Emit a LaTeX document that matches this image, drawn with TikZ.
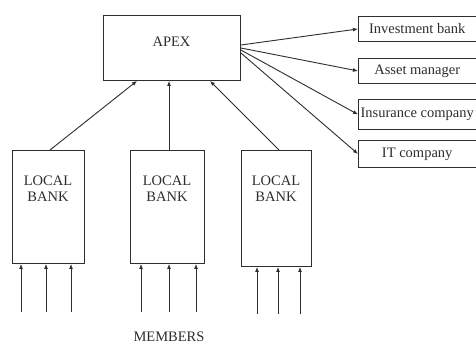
\documentclass[tikz,border=0pt]{standalone}
\usepackage{fontspec}
\setmainfont{Liberation Serif}
\usetikzlibrary{arrows.meta,calc}
\definecolor{ink}{HTML}{2E2E2E}
\begin{document}
\begin{tikzpicture}[x=1pt,y=-1pt,
  box/.style={draw=ink,line width=0.9pt,inner sep=0pt,anchor=north west},
  txt/.style={text=ink,font=\fontsize{14.5}{16}\selectfont,align=center,inner sep=0pt},
  arr/.style={draw=ink,line width=0.9pt,-{Latex[length=5pt,width=4pt]}}]
\useasboundingbox[fill=white] (0,0) rectangle (476,346);
% APEX
\node[box,minimum width=137pt,minimum height=65pt] (apex) at (103,15) {};
\node[txt] (apext) at (171.5,42) {APEX};
% right boxes
\node[box,minimum width=117.5pt,minimum height=25pt] (ib) at (358,16) {};
\node[txt] at (ib.center) {Investment bank};
\node[box,minimum width=117.5pt,minimum height=25pt] (am) at (358,58) {};
\node[txt] at (am.center) {Asset manager};
\node[box,minimum width=117.5pt,minimum height=30pt] (ic) at (358,99) {};
\node[txt] at (ic.center) {Insurance company};
\node[box,minimum width=117.5pt,minimum height=27pt] (it) at (358,140) {};
\node[txt] at (it.center) {IT company};
% local banks
\node[box,minimum width=72pt,minimum height=113pt] (lb1) at (12,150) {};
\node[txt] at (48,189) {LOCAL\\BANK};
\node[box,minimum width=74pt,minimum height=113pt] (lb2) at (130,150) {};
\node[txt] at (167,189) {LOCAL\\BANK};
\node[box,minimum width=70pt,minimum height=116pt] (lb3) at (241,150) {};
\node[txt] at (276,189) {LOCAL\\BANK};
\node[txt] (mem) at (169,337) {MEMBERS};
% arrows to APEX
\draw[arr] (lb1.north -| 50,0) -- (apex.south -| 137,0);
\draw[arr] (lb2.north -| 169,0) -- (apex.south -| 169,0);
\draw[arr] (lb3.north -| 279,0) -- (apex.south -| 210,0);
% APEX to right boxes
\draw[arr] ($(apex.north east)+(0,30)$) -- (ib.west);
\draw[arr] ($(apex.north east)+(0,33)$) -- (am.west);
\draw[arr] ($(apex.north east)+(0,35)$) -- (ic.west);
\draw[arr] ($(apex.north east)+(0,38)$) -- (it.west);
% members
\foreach \x in {21,46,71} {\coordinate (m) at (\x,312); \draw[arr] (m) -- (lb1.south -| m);}
\foreach \x in {141,169,196} {\coordinate (m) at (\x,312); \draw[arr] (m) -- (lb2.south -| m);}
\foreach \x in {257,278,300} {\coordinate (m) at (\x,314); \draw[arr] (m) -- (lb3.south -| m);}
\end{tikzpicture}
\end{document}
